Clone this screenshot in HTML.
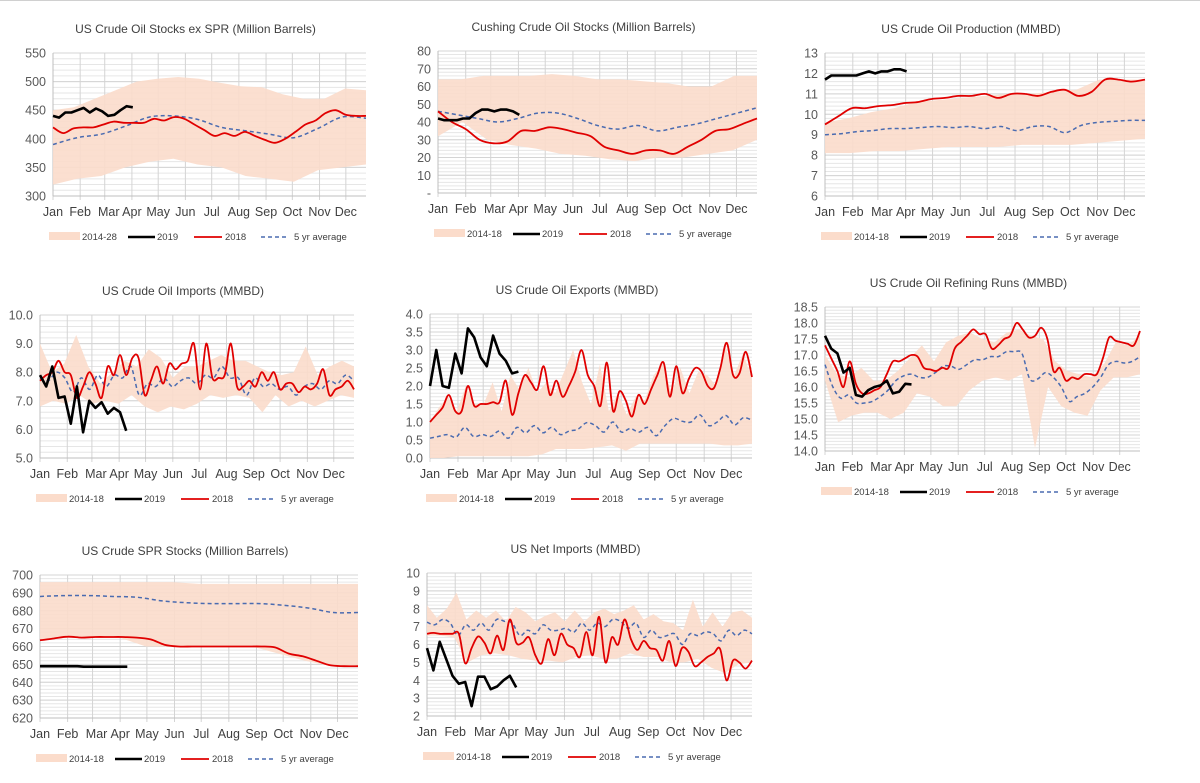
<!DOCTYPE html>
<html><head><meta charset="utf-8"><style>
html,body{margin:0;padding:0;background:#fff;}
svg{display:block;font-family:"Liberation Sans",Arial,sans-serif;}
</style></head><body>
<svg id="c" width="1200" height="783" viewBox="0 0 1200 783"></svg>
<script>
const months=["Jan","Feb","Mar","Apr","May","Jun","Jul","Aug","Sep","Oct","Nov","Dec"];
const monthDays=[0,31,59,90,120,151,181,212,243,273,304,334];
const legendLabels=["2014-18","2019","2018","5 yr average"];
// P1 crude stocks ex SPR
const p1Hi=[450,455,470,485,500,505,508,505,498,492,490,478,470,470,488,485];
const p1Lo=[320,330,335,350,360,365,355,350,335,330,325,345,350,355];
const p1Avg=[390,402,408,422,438,440,434,420,414,408,402,418,438,436];
const p18=[420,410,418,420,420,425,430,428,428,428,435,432,438,435,425,415,405,410,405,412,405,398,393,400,412,425,432,445,450,442,440,440];
const p19=[440,437,446,446,450,454,446,453,448,440,442,450,457,455];
// P2 Cushing
const c2Hi=[64,64,66,66,66,67,66,64,64,63,62,60,60,66,66];
const c2Lo=[32,40,30,27,25,22,21,19,18,20,20,22,24,30];
const c2Avg=[46,44,42,40,42,45,45,42,38,36,38,35,37,39,42,45,48];
const c218=[46,40,36,30,28,29,35,35,37,36,34,32,26,24,22,24,24,22,26,30,35,36,39,42];
const c219=[42,41,41,41,42,42,45,47,47,46,47,47,46,44];
// P3 Production
const r3Hi=[9.6,9.8,10.1,10.3,10.6,10.7,10.8,10.9,11.0,11.0,11.1,11.2,11.7,11.7,11.7];
const r3Lo=[8.1,8.1,8.2,8.2,8.3,8.4,8.4,8.4,8.5,8.5,8.5,8.6,8.7,8.8];
const r3Avg=[9.0,9.05,9.15,9.2,9.3,9.3,9.35,9.4,9.35,9.4,9.3,9.4,9.2,9.4,9.4,9.1,9.45,9.6,9.65,9.7,9.7];
const r318=[9.5,9.9,10.3,10.3,10.4,10.45,10.55,10.6,10.75,10.8,10.9,10.9,11.0,10.8,11.0,11.0,10.9,11.1,11.2,10.9,11.1,11.7,11.7,11.6,11.7];
const r319=[11.7,11.9,11.9,11.9,11.9,11.9,12.0,12.1,12.0,12.1,12.1,12.2,12.2,12.1];
// P4 Imports
const i4Hi=[9.0,8.0,8.3,9.3,8.2,7.6,8.0,8.4,8.2,8.8,8.5,7.8,8.2,8.2,8.4,8.6,8.4,8.4,8.2,8.0,7.9,8.0,8.9,7.9,8.2,8.4,8.2];
const i4Lo=[6.8,7.0,6.9,7.2,6.9,7.0,6.9,7.2,6.8,6.6,6.8,6.7,6.9,7.2,7.1,7.2,7.1,6.6,7.2,6.8,7.0,6.8,7.0,7.2,7.1];
const i4Avg=[7.8,7.7,8.0,7.8,7.3,7.8,7.4,7.9,7.5,7.9,7.8,8.2,7.2,7.6,7.5,7.8,7.5,7.7,7.8,7.6,7.9,7.8,8.2,7.8,7.8,7.2,7.8,7.5,7.6,7.4,7.5,7.2,7.5,7.6,7.4,7.7,7.6,7.9,7.7];
const i418=[7.7,7.9,8.0,8.4,8.0,7.9,7.1,7.5,8.0,7.6,7.1,8.2,7.9,8.6,7.9,8.5,8.5,7.2,7.7,8.2,7.6,8.3,8.1,8.3,8.4,9.0,7.4,9.0,7.8,7.8,7.9,9.0,7.5,7.5,7.7,7.5,8.0,7.7,8.0,7.4,7.6,7.6,7.3,7.5,7.4,7.6,8.1,7.2,7.4,7.5,7.7,7.4];
const i419=[7.9,7.5,8.2,7.1,7.15,6.2,7.5,5.9,7.0,6.75,6.95,6.55,6.75,6.6,5.95];
// P5 Exports
const e5Hi=[1.0,1.4,1.7,1.3,2.0,1.5,1.5,2.1,1.3,2.3,1.9,2.5,1.8,2.1,1.8,2.4,3.0,2.1,1.5,2.6,1.3,1.8,1.2,1.7,1.6,2.3,2.6,1.8,2.5,1.8,2.4,2.3,2.0,3.1,2.3,2.9,2.2];
const e5Lo=[0.0,0.0,0.05,0.05,0.05,0.05,0.05,0.05,0.1,0.25,0.25,0.25,0.3,0.35,0.2,0.4,0.4,0.4,0.4,0.4,0.4,0.35,0.35,0.4];
const e5Avg=[0.55,0.6,0.65,0.58,0.85,0.6,0.65,0.6,0.75,0.55,0.85,0.7,0.9,0.7,0.85,0.65,0.75,0.8,0.98,0.9,0.72,1.0,0.72,0.82,0.72,0.85,0.62,0.9,1.1,1.02,1.0,1.2,0.9,1.0,1.18,0.92,1.12,1.05];
const e518=[1.0,1.2,1.4,1.75,1.3,1.3,2.0,1.45,1.5,1.5,1.55,1.55,2.15,1.2,1.8,2.3,2.1,1.9,2.55,1.75,2.15,1.7,2.0,2.4,3.0,2.3,2.0,1.45,2.65,1.3,1.85,1.6,1.15,1.75,1.5,1.9,2.3,2.65,1.7,2.55,1.8,2.2,2.5,2.4,2.0,1.95,2.5,3.2,2.3,2.35,2.95,2.25];
const e519=[2.0,3.0,2.0,1.95,2.9,2.35,3.6,3.35,2.8,2.55,3.4,2.9,2.7,2.35,2.4];
// P6 Refining runs
const f6Hi=[17.0,16.4,16.3,16.6,16.2,16.2,16.5,16.9,17.3,16.8,17.4,17.6,17.7,17.5,17.4,17.7,17.8,17.6,17.5,16.8,16.5,16.4,16.3,16.7,17.4,17.3,17.6];
const f6Lo=[16.2,14.9,15.1,15.2,15.2,15.0,15.2,15.8,15.7,15.4,15.4,15.9,16.2,16.3,16.2,16.4,14.1,16.0,15.4,15.2,15.1,15.9,16.3,16.3,16.4];
const f6Avg=[16.7,16.0,15.65,15.75,15.5,15.5,15.55,15.7,15.9,16.2,16.35,16.4,16.3,16.3,16.45,16.65,16.65,16.55,16.7,16.85,16.85,16.95,16.95,17.1,17.1,17.05,16.25,16.25,16.45,16.3,16.0,15.55,15.7,15.8,16.0,16.3,16.7,16.8,16.75,16.8,16.95];
const f618=[17.3,16.9,16.5,16.0,16.8,16.1,15.8,15.8,15.9,16.0,16.4,16.8,16.8,16.9,17.0,16.95,16.6,16.55,16.5,16.6,16.6,17.2,17.4,17.6,17.8,17.65,17.65,17.2,17.3,17.5,17.6,18.0,17.8,17.55,17.6,17.85,17.5,16.5,16.6,16.2,16.3,16.25,16.4,16.4,16.4,16.9,17.55,17.45,17.4,17.35,17.3,17.75];
const f619=[17.6,17.2,17.05,16.45,16.6,15.75,15.7,15.9,16.0,16.05,16.2,15.8,15.85,16.1,16.08];
// P7 SPR
const s7Hi=[696,696,696,696,696,696,695,695,695,695,695,695,695];
const s7Lo=[664,665,665,665,660,660,660,660,660,656,652,649,649];
const s7Avg=[688,688.5,688.5,688,687.5,685.5,684.5,684,684,684,683,681.5,679,679];
const s718=[663.5,664.5,665.5,665,665.3,665.3,665.3,665,664,661,660,660,660,660,660,660,660,659.5,656,654.5,652,649.5,649,649];
const s719=[649,649,649,649,649,649,649,648.7,648.7,648.7,648.7,648.7,648.7,648.7,648.7];
// P8 Net imports
const n8Hi=[8.2,7.5,8.0,8.9,7.4,7.9,7.5,7.9,7.3,8.1,7.8,7.3,7.6,7.8,7.3,7.9,7.3,7.8,8.0,7.7,7.9,8.2,7.4,7.7,7.3,7.2,6.8,8.5,7.0,7.8,7.0,7.8,7.9,7.5];
const n8Lo=[6.5,6.5,6.4,5.0,5.4,5.5,5.4,5.2,5.1,5.1,5.0,5.3,5.4,5.2,5.2,5.5,5.3,5.3,5.0,5.0,5.2,4.7,4.4,4.9,5.0];
const n8Avg=[7.25,7.1,7.4,7.2,6.5,7.1,6.8,7.2,6.8,7.4,7.3,7.2,6.5,6.8,6.6,7.1,6.8,6.8,6.9,6.7,7.2,6.8,7.2,7.0,7.4,7.3,6.9,7.2,6.4,6.8,6.4,6.5,6.6,6.0,6.6,6.5,6.7,6.6,6.2,6.8,6.5,6.8,6.6];
const n818=[6.6,6.65,6.6,6.6,6.6,6.6,4.95,5.8,6.45,6.1,5.5,6.5,5.7,7.4,6.1,6.1,6.4,5.4,4.95,6.3,5.4,6.6,6.0,5.8,5.3,6.7,5.4,7.55,5.0,6.4,6.0,7.4,6.3,5.7,6.2,5.8,5.7,5.1,6.2,4.8,5.8,5.6,4.8,5.0,5.3,5.5,5.75,4.0,5.1,5.0,4.65,5.1];
const n819=[5.8,4.55,6.15,5.2,4.25,3.8,3.9,2.55,4.2,4.2,3.5,3.65,4.0,4.25,3.6];

const panels=[
 {id:"stocks",title:"US Crude  Oil Stocks ex SPR (Million Barrels)",L:53,R:366,T:53,B:196,min:300,max:550,step:50,fmt:v=>v,hi:p1Hi,lo:p1Lo,avg:p1Avg,y18:p18,y19:p19,band:"2014-28"},
 {id:"cushing",title:"Cushing Crude Oil Stocks (Million Barrels)",L:438,R:757,T:51,B:193,min:0,max:80,step:10,fmt:v=>v===0?"-":v,hi:c2Hi,lo:c2Lo,avg:c2Avg,y18:c218,y19:c219},
 {id:"production",title:"US Crude  Oil Production (MMBD)",L:825,R:1145,T:53,B:196,min:6,max:13,step:1,fmt:v=>v,hi:r3Hi,lo:r3Lo,avg:r3Avg,y18:r318,y19:r319},
 {id:"imports",title:"US Crude  Oil Imports (MMBD)",L:40,R:354,T:315,B:458,min:5,max:10,step:1,fmt:v=>v.toFixed(1),hi:i4Hi,lo:i4Lo,avg:i4Avg,y18:i418,y19:i419},
 {id:"exports",title:"US Crude Oil Exports (MMBD)",L:430,R:752,T:314,B:458,min:0,max:4,step:0.5,fmt:v=>v.toFixed(1),hi:e5Hi,lo:e5Lo,avg:e5Avg,y18:e518,y19:e519},
 {id:"refining",title:"US Crude Oil Refining Runs (MMBD)",L:825,R:1140,T:307,B:451,min:14,max:18.5,step:0.5,fmt:v=>v.toFixed(1),hi:f6Hi,lo:f6Lo,avg:f6Avg,y18:f618,y19:f619},
 {id:"spr",title:"US Crude SPR Stocks (Million Barrels)",L:40,R:358,T:575,B:718,min:620,max:700,step:10,fmt:v=>v,hi:s7Hi,lo:s7Lo,avg:s7Avg,y18:s718,y19:s719},
 {id:"net-imports",title:"US Net Imports  (MMBD)",L:427,R:752,T:573,B:716,min:2,max:10,step:1,fmt:v=>v,hi:n8Hi,lo:n8Lo,avg:n8Avg,y18:n818,y19:n819}
];
const NS="http://www.w3.org/2000/svg";
const svg=document.getElementById("c");
function el(tag,attrs,parent,text){const e=document.createElementNS(NS,tag);for(const k in attrs)e.setAttribute(k,attrs[k]);if(text!==undefined)e.textContent=text;(parent||svg).appendChild(e);return e;}
function smooth(pts){if(pts.length<2)return"";let d="M"+pts[0][0]+","+pts[0][1];for(let i=0;i<pts.length-1;i++){const p0=pts[i-1]||pts[i],p1=pts[i],p2=pts[i+1],p3=pts[i+2]||p2;const c1x=p1[0]+(p2[0]-p0[0])/6,c1y=p1[1]+(p2[1]-p0[1])/6,c2x=p2[0]-(p3[0]-p1[0])/6,c2y=p2[1]-(p3[1]-p1[1])/6;d+=" C"+c1x.toFixed(1)+","+c1y.toFixed(1)+" "+c2x.toFixed(1)+","+c2y.toFixed(1)+" "+p2[0].toFixed(1)+","+p2[1].toFixed(1);}return d;}
panels.forEach(p=>{
 const g=el("g",{});
 
 
 const W=p.R-p.L;const spanW=51;
 const xw=w=>p.L+w/spanW*W;
 const xs=(i,n)=>p.L+i/(n-1)*W;
 const y=v=>p.B-(v-p.min)/(p.max-p.min)*(p.B-p.T);
 // minor grid
 const minor=p.step/5;
 for(let v=p.min;v<=p.max+1e-9;v+=minor){const gl=el("line",{x1:p.L,x2:p.R,y1:y(v),y2:y(v),stroke:"#e6e6e6","stroke-width":1},g);}
 for(let v=p.min;v<=p.max+1e-9;v+=p.step){el("line",{x1:p.L,x2:p.R,y1:y(v),y2:y(v),stroke:"#d4d4d4","stroke-width":1},g);
  const t=el("text",{x:p.L-7,y:y(v)+4.5,"text-anchor":"end","font-size":12.5,fill:"#595959"},g,p.fmt(Math.round(v*10)/10));
  }
 monthDays.forEach((d,i)=>{const x=xw(d/7);el("line",{x1:x,x2:x,y1:p.T,y2:p.B+4,stroke:"#d4d4d4","stroke-width":1},g);
  const t=el("text",{x:x+(i==2?4:0),y:p.B+20,"text-anchor":"middle","font-size":12.5,fill:"#404040"},g,months[i]);
  });
 el("line",{x1:p.L,x2:p.L,y1:p.T,y2:p.B,stroke:"#bfbfbf"},g);
 el("line",{x1:p.L,x2:p.R,y1:p.B,y2:p.B,stroke:"#bfbfbf"},g);
 // band
 let pts=p.hi.map((v,i)=>xs(i,p.hi.length).toFixed(1)+","+y(v).toFixed(1));
 for(let i=p.lo.length-1;i>=0;i--)pts.push(xs(i,p.lo.length).toFixed(1)+","+y(p.lo[i]).toFixed(1));
 const band=el("polygon",{points:pts.join(" "),fill:"#fbdccb","fill-opacity":0.9},g);
 
 const avg=el("path",{d:smooth(p.avg.map((v,i)=>[xs(i,p.avg.length),y(v)])),fill:"none",stroke:"#4a6bb0","stroke-width":1.5,"stroke-dasharray":"4,3"},g);
 
 const r=el("path",{d:smooth(p.y18.map((v,i)=>[xs(i,p.y18.length),y(v)])),fill:"none",stroke:"#e00000","stroke-width":1.8},g);
 
 const b=el("polyline",{points:p.y19.map((v,i)=>xw(i).toFixed(1)+","+y(v).toFixed(1)).join(" "),fill:"none",stroke:"#000","stroke-width":2.6,"stroke-linejoin":"round"},g);
 
 const tt=el("text",{x:(p.L+p.R)/2-14,y:p.T-20,"text-anchor":"middle","font-size":12,fill:"#404040"},g,p.title);
 
 // legend
 const ly=p.B+41,L=p.L;
 const lg=el("g",{},g);
 
 el("rect",{x:L-4,y:ly-5,width:31,height:8,fill:"#fbdccb"},lg);
 el("text",{x:L+29,y:ly+3,"font-size":9.5,fill:"#404040"},lg,p.band||legendLabels[0]);
 el("line",{x1:L+75,x2:L+102,y1:ly,y2:ly,stroke:"#000","stroke-width":2.6},lg);
 el("text",{x:L+104,y:ly+3,"font-size":9.5,fill:"#404040"},lg,legendLabels[1]);
 el("line",{x1:L+141,x2:L+169,y1:ly,y2:ly,stroke:"#e00000","stroke-width":1.8},lg);
 el("text",{x:L+172,y:ly+3,"font-size":9.5,fill:"#404040"},lg,legendLabels[2]);
 el("line",{x1:L+208,x2:L+233,y1:ly,y2:ly,stroke:"#4a6bb0","stroke-width":1.5,"stroke-dasharray":"4,3"},lg);
 el("text",{x:L+241,y:ly+3,"font-size":9.5,fill:"#404040"},lg,legendLabels[3]);
});
el("line",{x1:0,x2:1200,y1:0.5,y2:0.5,stroke:"#d0d0d0"});
</script>
</body></html>
